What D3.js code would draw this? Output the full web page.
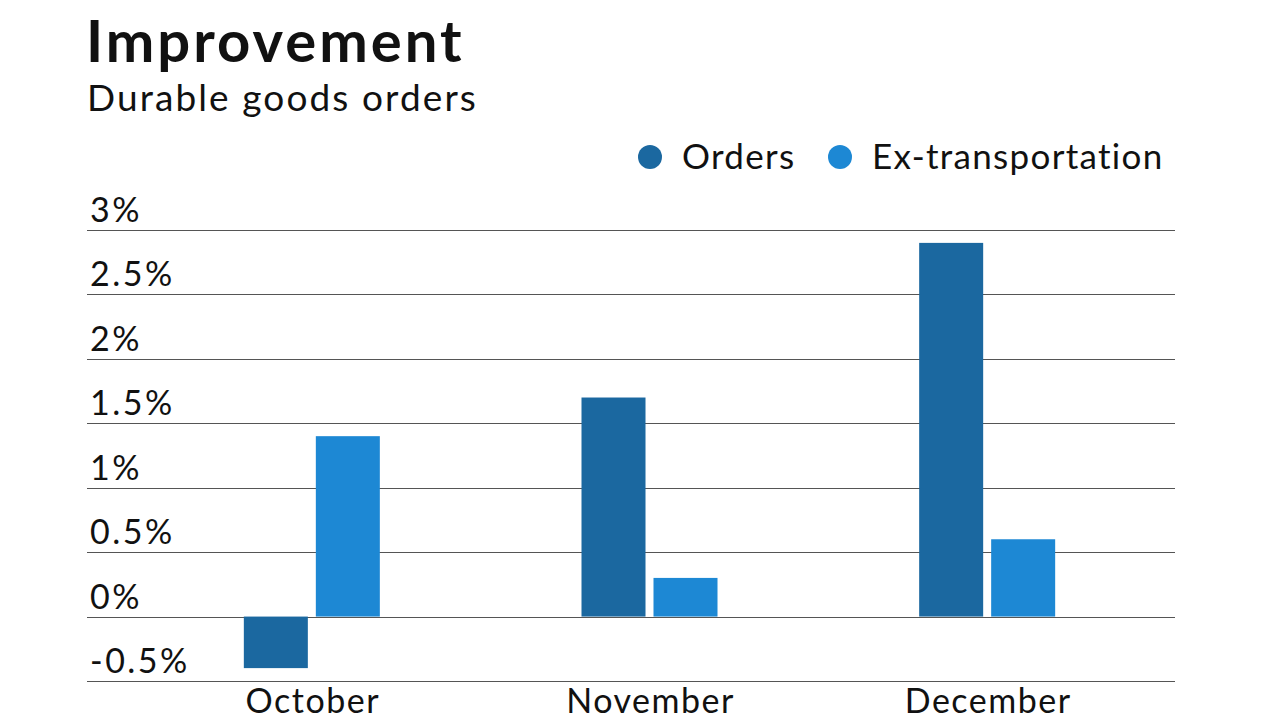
<!DOCTYPE html>
<html>
<head>
<meta charset="utf-8">
<script src="https://cdn.jsdelivr.net/npm/d3@7"></script>
<style>
  html, body { margin: 0; padding: 0; background: #fff; }
  svg { display: block; }
  text { font-family: Lato, "Open Sans", sans-serif; fill: #111; }
</style>
</head>
<body>
<svg id="chart" width="1280" height="720"></svg>
<script>
const categories = ["October", "November", "December"];
const series = ["Orders", "Ex-transportation"];
const orders = [-0.4, 1.7, 2.9];
const exTransportation = [1.4, 0.3, 0.6];
const yTicks = [-0.5, 0, 0.5, 1, 1.5, 2, 2.5, 3];
const yTickLabels = ["-0.5%", "0%", "0.5%", "1%", "1.5%", "2%", "2.5%", "3%"];
const colors = ["#1b68a0", "#1d88d4"];

const svg = d3.select("#chart");

const data = categories.map((c, i) => ({
  category: c,
  values: [
    { key: series[0], value: orders[i] },
    { key: series[1], value: exTransportation[i] }
  ]
}));

const x0 = d3.scaleBand().domain(categories).range([143, 1156]).paddingInner(0).paddingOuter(0);
const x1 = d3.scaleBand().domain(series).range([-68, 68]).paddingInner(0.111).paddingOuter(0);
const y = d3.scaleLinear().domain([-0.5, 3]).range([681, 230]);
const color = d3.scaleOrdinal().domain(series).range(colors);

// Title
svg.append("text").attr("x", 86).attr("y", 62)
  .style("font-size", "58px").style("font-weight", "700").style("letter-spacing", "3px").text("Improvement");
svg.append("text").attr("x", 87).attr("y", 111)
  .style("font-size", "37px").style("letter-spacing", "2.1px").text("Durable goods orders");

// Legend
const legend = svg.append("g");
const legendItems = [{ key: series[0], cx: 650, tx: 682 }, { key: series[1], cx: 840, tx: 872 }];
legendItems.forEach(d => {
  legend.append("circle").attr("cx", d.cx).attr("cy", 157).attr("r", 12).attr("fill", color(d.key));
  legend.append("text").attr("x", d.tx).attr("y", 169).style("font-size", "35px")
    .style("letter-spacing", "1.3px").text(d.key);
});

// Gridlines
svg.append("g").selectAll("line").data(yTicks).join("line")
  .attr("x1", 87).attr("x2", 1175)
  .attr("y1", d => Math.round(y(d)) + 0.5).attr("y2", d => Math.round(y(d)) + 0.5)
  .attr("stroke", "#555").attr("stroke-width", 1);

// Tick labels
svg.append("g").selectAll("text").data(yTicks).join("text")
  .attr("x", 90).attr("y", d => y(d) - 8)
  .style("font-size", "34px").style("letter-spacing", "2.5px")
  .text((d, i) => yTickLabels[i]);

// Bars
const groups = svg.append("g").selectAll("g").data(data).join("g")
  .attr("transform", d => `translate(${x0(d.category) + x0.bandwidth() / 2},0)`);
groups.selectAll("rect").data(d => d.values).join("rect")
  .attr("x", d => x1(d.key))
  .attr("width", x1.bandwidth())
  .attr("y", d => y(Math.max(0, d.value)))
  .attr("height", d => Math.abs(y(d.value) - y(0)))
  .attr("fill", d => color(d.key));

// Category labels
svg.append("g").selectAll("text").data(categories).join("text")
  .attr("x", d => x0(d) + x0.bandwidth() / 2 + 1).attr("y", 713)
  .attr("text-anchor", "middle")
  .style("font-size", "34px").style("letter-spacing", "1.5px")
  .text(d => d);
</script>
</body>
</html>
